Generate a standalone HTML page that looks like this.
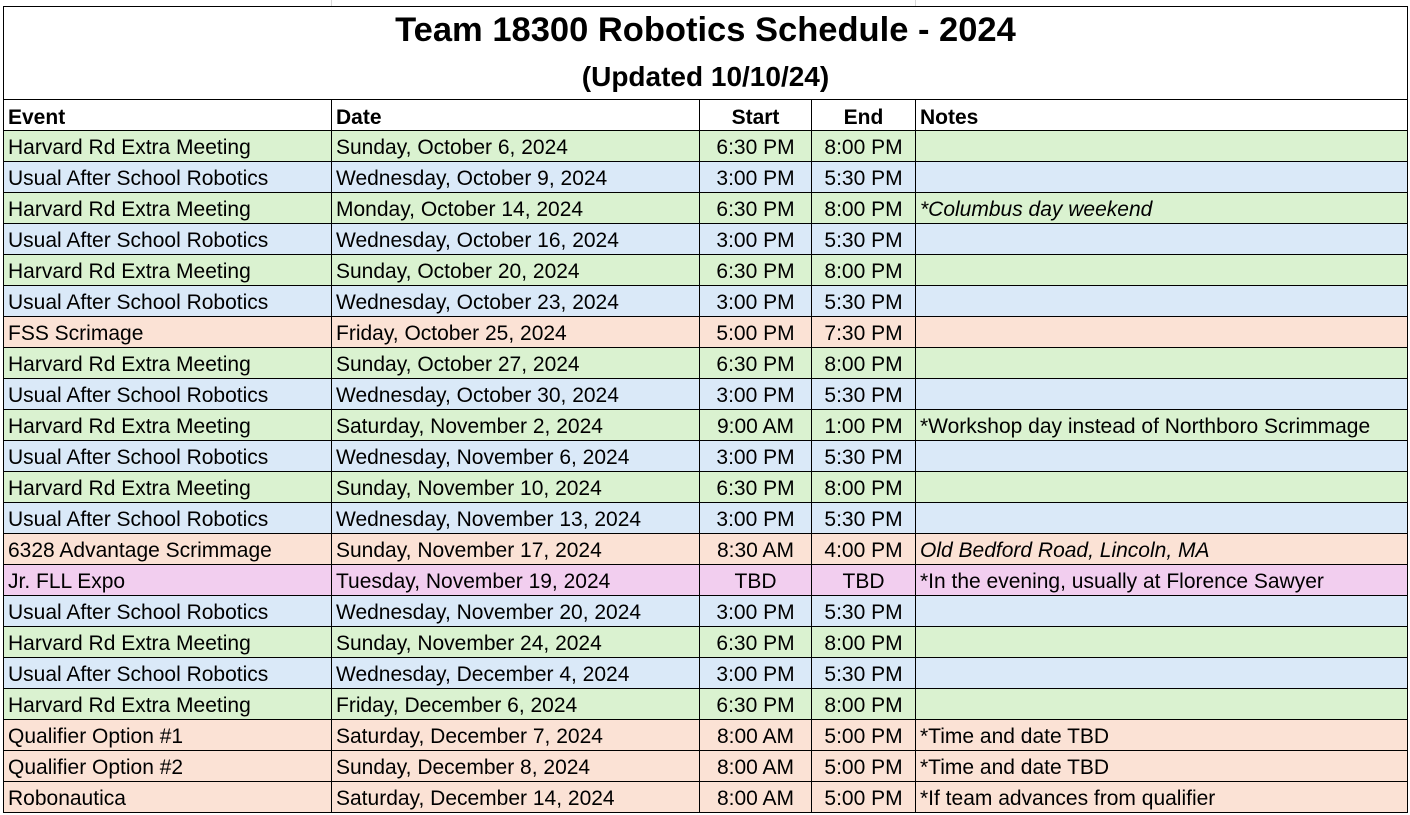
<!DOCTYPE html>
<html><head><meta charset="utf-8">
<style>
html,body{margin:0;padding:0;background:#fff;width:1410px;height:815px;overflow:hidden;font-family:"Liberation Sans",Arial,sans-serif;}
#sheet{position:relative;width:1410px;height:815px;}
.c{position:absolute;box-sizing:border-box;border-right:1px solid #000;border-bottom:1px solid #000;font-size:21px;line-height:30px;padding-top:2px;padding-left:4px;white-space:nowrap;overflow:hidden;color:#000;}
.ctr{text-align:center;padding-left:0;}
.it{font-style:italic;}
.hd{font-weight:bold;border-top:1px solid #000;padding-top:3px;}
.g{position:absolute;background:#d9d9d9;width:1px;top:0;height:6px;}
</style></head><body>
<div id="sheet">
<div class="g" style="left:331px"></div>
<div class="g" style="left:915px"></div>
<div style="position:absolute;left:3px;top:6px;width:1405px;height:94px;box-sizing:border-box;border:1px solid #000;">
<div style="position:absolute;left:0;right:0;top:3px;text-align:center;font-weight:bold;font-size:34.5px;line-height:40px;">Team 18300 Robotics Schedule - 2024</div>
<div style="position:absolute;left:0;right:0;top:53px;text-align:center;font-weight:bold;font-size:28px;line-height:34px;">(Updated 10/10/24)</div>
</div>
<div id="tbl"></div>
</div>
<script>
const events=["Harvard Rd Extra Meeting","Usual After School Robotics","Harvard Rd Extra Meeting","Usual After School Robotics","Harvard Rd Extra Meeting","Usual After School Robotics","FSS Scrimage","Harvard Rd Extra Meeting","Usual After School Robotics","Harvard Rd Extra Meeting","Usual After School Robotics","Harvard Rd Extra Meeting","Usual After School Robotics","6328 Advantage Scrimmage","Jr. FLL Expo","Usual After School Robotics","Harvard Rd Extra Meeting","Usual After School Robotics","Harvard Rd Extra Meeting","Qualifier Option #1","Qualifier Option #2","Robonautica"];
const dates=["Sunday, October 6, 2024","Wednesday, October 9, 2024","Monday, October 14, 2024","Wednesday, October 16, 2024","Sunday, October 20, 2024","Wednesday, October 23, 2024","Friday, October 25, 2024","Sunday, October 27, 2024","Wednesday, October 30, 2024","Saturday, November 2, 2024","Wednesday, November 6, 2024","Sunday, November 10, 2024","Wednesday, November 13, 2024","Sunday, November 17, 2024","Tuesday, November 19, 2024","Wednesday, November 20, 2024","Sunday, November 24, 2024","Wednesday, December 4, 2024","Friday, December 6, 2024","Saturday, December 7, 2024","Sunday, December 8, 2024","Saturday, December 14, 2024"];
const starts=["6:30 PM","3:00 PM","6:30 PM","3:00 PM","6:30 PM","3:00 PM","5:00 PM","6:30 PM","3:00 PM","9:00 AM","3:00 PM","6:30 PM","3:00 PM","8:30 AM","TBD","3:00 PM","6:30 PM","3:00 PM","6:30 PM","8:00 AM","8:00 AM","8:00 AM"];
const ends=["8:00 PM","5:30 PM","8:00 PM","5:30 PM","8:00 PM","5:30 PM","7:30 PM","8:00 PM","5:30 PM","1:00 PM","5:30 PM","8:00 PM","5:30 PM","4:00 PM","TBD","5:30 PM","8:00 PM","5:30 PM","8:00 PM","5:00 PM","5:00 PM","5:00 PM"];
const notes=["","","*Columbus day weekend","","","","","","","*Workshop day instead of Northboro Scrimmage","","","","Old Bedford Road, Lincoln, MA","*In the evening, usually at Florence Sawyer","","","","","*Time and date TBD","*Time and date TBD","*If team advances from qualifier"];
const italicNotes=[2,13];
const colors={"Harvard Rd Extra Meeting":"#daf2d0","Usual After School Robotics":"#dae9f8","Jr. FLL Expo":"#f2ceef"};
const cols=[[3,332],[332,700],[700,812],[812,916],[916,1408]];
const names=["event","date","start","end","notes"];
const tbl=document.getElementById('tbl');
function cell(ci,top,h,text,bg,cls,name){
  const d=document.createElement('div');
  d.className='c '+cls;
  d.style.left=cols[ci][0]+'px';d.style.top=top+'px';
  d.style.width=(cols[ci][1]-cols[ci][0])+'px';d.style.height=h+'px';
  if(ci===0)d.style.borderLeft='1px solid #000';
  d.style.background=bg;d.textContent=text;
  
  
  tbl.appendChild(d);
}
const hdr=["Event","Date","Start","End","Notes"];
hdr.forEach((t,i)=>cell(i,99,32,t,'#fff','hd'+(i===2||i===3?' ctr':''),'header-'+names[i]));
for(let r=0;r<events.length;r++){
  const top=131+r*31;
  const bg=colors[events[r]]||'#fbe2d5';
  const vals=[events[r],dates[r],starts[r],ends[r],notes[r]];
  vals.forEach((v,i)=>{
    let cls=(i===2||i===3)?'ctr':'';
    if(i===4&&italicNotes.includes(r))cls+=' it';
    cell(i,top,31,v,bg,cls,'row-'+(r+1)+'-'+names[i]);
  });
}
</script>
</body></html>
